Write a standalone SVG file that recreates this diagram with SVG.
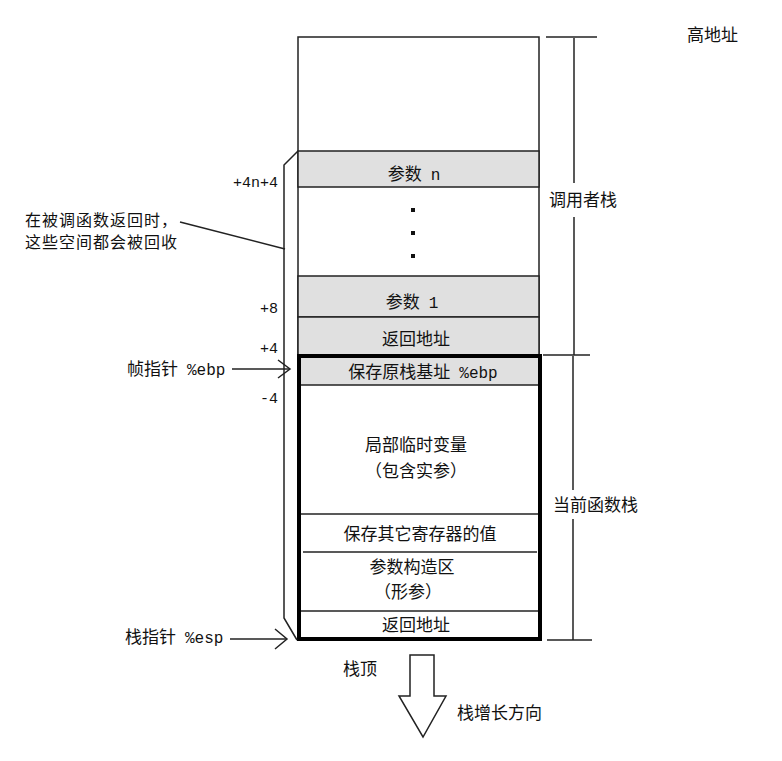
<svg xmlns="http://www.w3.org/2000/svg" width="782" height="761" viewBox="0 0 782 761">
<style>
.c{fill:#fff;stroke:#222;stroke-width:1.5}
.g{fill:#e0e0e0;stroke:#222;stroke-width:1.5}
.l{stroke:#222;stroke-width:1.5;fill:none}
.t{font-family:"Noto Sans CJK SC","Liberation Mono",sans-serif;font-size:17px;fill:#111}
.m{font-family:"Liberation Mono","Noto Sans CJK SC",monospace;font-size:15px;fill:#111}
.s{font-size:16px}
.w{letter-spacing:1px}
.mid{text-anchor:middle}
</style>
<rect width="782" height="761" fill="#fff"/>
<g id="caller-frame">
<rect class="c" x="298" y="37" width="241" height="318"/>
</g>
<g id="param-n"><rect class="g" x="298" y="151" width="241" height="36"/>
<text class="t mid" x="414" y="180">参数<tspan class="m s" dx="9">n</tspan></text></g>
<g id="dots">
<rect x="411" y="208" width="4" height="4" fill="#111"/>
<rect x="411" y="231" width="4" height="4" fill="#111"/>
<rect x="411" y="254" width="4" height="4" fill="#111"/>
</g>
<g id="param-1"><rect class="g" x="298" y="276" width="241" height="41"/>
<text class="t mid" x="412" y="308">参数<tspan class="m s" dx="9">1</tspan></text></g>
<g id="ret-addr-caller"><rect class="g" x="298" y="317" width="241" height="38"/>
<text class="t mid" x="416" y="345">返回地址</text></g>
<g id="current-frame">
<rect class="g" x="299" y="357" width="241" height="28"/>
<text class="t mid" x="423" y="378">保存原栈基址<tspan class="m s" dx="9">%ebp</tspan></text>
<text class="t mid" x="416" y="451">局部临时变量</text>
<text class="t mid" x="416" y="477">（包含实参）</text>
<line class="l" x1="299" y1="514" x2="540" y2="514"/>
<text class="t mid" x="420" y="540">保存其它寄存器的值</text>
<line class="l" x1="303" y1="552" x2="537" y2="552"/>
<text class="t mid" x="412" y="573">参数构造区</text>
<text class="t mid" x="408" y="598">（形参）</text>
<line class="l" x1="299" y1="611" x2="540" y2="611"/>
<text class="t mid" x="416" y="631">返回地址</text>
<rect x="299" y="356" width="241" height="283" fill="none" stroke="#000" stroke-width="4"/>
</g>
<g id="connectors">
<polyline class="l" points="298,151 284,165 284,618 297,640"/>
<line class="l" x1="180" y1="222" x2="285" y2="249"/>
<line class="l" x1="232" y1="369" x2="290" y2="369"/>
<polyline class="l" points="278,360 290,369 278,378"/>
<line class="l" x1="230" y1="639" x2="287" y2="639"/>
<polyline class="l" points="275,629 287,639 275,649"/>
<line class="l" x1="546" y1="37" x2="597" y2="37"/>
<line class="l" x1="574" y1="38" x2="574" y2="183"/>
<line class="l" x1="574" y1="217" x2="574" y2="355"/>
<line class="l" x1="543" y1="355" x2="590" y2="355"/>
<line class="l" x1="573" y1="356" x2="573" y2="490"/>
<line class="l" x1="573" y1="519" x2="573" y2="640"/>
<line class="l" x1="547" y1="640" x2="592" y2="640"/>
<polygon class="l" points="410,655 434,655 434,696 446,696 423,737 399,696 410,696"/>
</g>
<g id="labels">
<text class="t" x="687" y="41">高地址</text>
<text class="t" x="549" y="206">调用者栈</text>
<text class="t" x="553" y="511">当前函数栈</text>
<text class="m" x="278" y="187" text-anchor="end">+4n+4</text>
<text class="t s w" x="25" y="226">在被调函数返回时，</text>
<text class="t s w" x="25" y="248">这些空间都会被回收</text>
<text class="m" x="278" y="313" text-anchor="end">+8</text>
<text class="m" x="278" y="353" text-anchor="end">+4</text>
<text class="t" x="127" y="375">帧指针<tspan class="m s" dx="9">%ebp</tspan></text>
<text class="m" x="278" y="403" text-anchor="end">-4</text>
<text class="t" x="125" y="643">栈指针<tspan class="m s" dx="9">%esp</tspan></text>
<text class="t" x="343" y="675">栈顶</text>
<text class="t" x="457" y="719">栈增长方向</text>
</g>
</svg>
